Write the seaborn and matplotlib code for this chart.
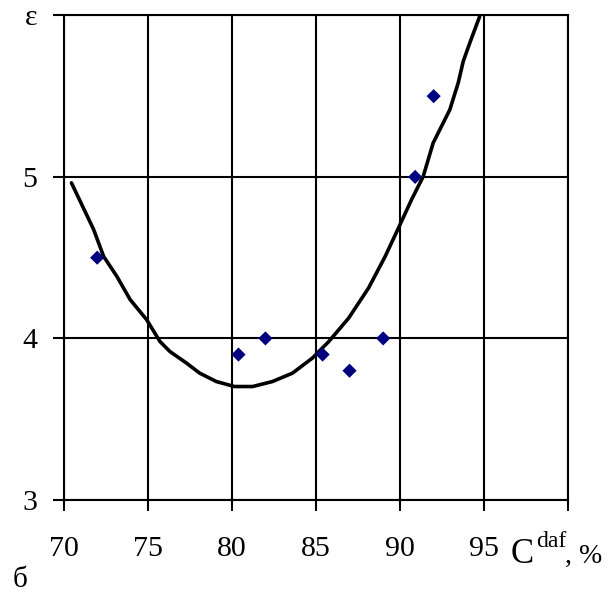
import matplotlib
matplotlib.use("Agg")
import matplotlib.pyplot as plt
import seaborn as sns
import pandas as pd

# Measured dielectric constant versus carbon content
carbon = [72.0, 80.4, 82.0, 85.4, 87.0, 89.0, 90.9, 92.0]
epsilon = [4.5, 3.9, 4.0, 3.9, 3.8, 4.0, 5.0, 5.5]

# Trend curve through the measurements
curve_c = [70.47, 71.79, 72.38, 73.17, 73.96, 74.94, 75.73, 76.32, 77.31, 78.09,
           79.08, 80.16, 81.24, 82.42, 83.61, 84.79, 85.77, 86.95, 88.13, 89.12,
           89.91, 90.69, 91.38, 91.97, 92.96, 93.46, 93.76, 94.15, 94.74]
curve_eps = [4.963, 4.674, 4.508, 4.384, 4.240, 4.116, 3.981, 3.919, 3.847, 3.785,
             3.733, 3.702, 3.702, 3.733, 3.785, 3.878, 3.981, 4.126, 4.312, 4.508,
             4.684, 4.860, 5.003, 5.210, 5.416, 5.582, 5.716, 5.830, 5.995]

x_ticks = [70, 75, 80, 85, 90, 95, 100]
x_tick_labels = ["70", "75", "80", "85", "90", "95", ""]
y_ticks = [3, 4, 5, 6]
y_tick_labels = ["3", "4", "5", "ε"]

sns.set_theme(style="white")
plt.rcParams["font.family"] = ["Liberation Serif", "DejaVu Serif"]
plt.rcParams["text.color"] = "black"
plt.rcParams["xtick.color"] = "black"
plt.rcParams["ytick.color"] = "black"

points = pd.DataFrame({"C": carbon, "eps": epsilon})
trend = pd.DataFrame({"C": curve_c, "eps": curve_eps})

fig = plt.figure(figsize=(6.11, 5.93), dpi=100)
ax = fig.add_axes([0.104, 0.157, 0.826, 0.817])

sns.lineplot(data=trend, x="C", y="eps", sort=False, color="black",
             linewidth=2.6, ax=ax, zorder=3)
sns.scatterplot(data=points, x="C", y="eps", marker="D", color="#000080",
                s=52, edgecolor="none", ax=ax, zorder=4)

ax.set_xlim(70, 100)
ax.set_ylim(3, 6)
ax.set_xticks(x_ticks)
ax.set_xticklabels(x_tick_labels)
ax.set_yticks(y_ticks)
ax.set_yticklabels(y_tick_labels)
ax.set_xlabel("")
ax.set_ylabel("")

ax.grid(True, color="black", linewidth=1.5)
ax.set_axisbelow(True)
for side in ax.spines.values():
    side.set_visible(True)
    side.set_color("black")
    side.set_linewidth(1.5)

ax.tick_params(axis="x", direction="out", length=8, width=1.5, colors="black",
               labelsize=21.5, pad=18, bottom=True)
ax.tick_params(axis="y", direction="out", length=8, width=1.5, colors="black",
               labelsize=21.5, pad=11, left=True)

# Axis title built from pieces of different sizes
W, H = 611.0, 593.0
fig.text(511 / W, 1 - 563 / H, "C", fontsize=25, va="baseline", ha="left",
         color="black")
fig.text(536 / W, 1 - 547 / H, "daf", fontsize=17, va="baseline", ha="left",
         color="black")
fig.text(565 / W, 1 - 563 / H, ", %", fontsize=20, va="baseline", ha="left",
         color="black")

# Panel letter
fig.text(13 / W, 1 - 587 / H, "б", fontsize=21, va="baseline", ha="left",
         color="black")

fig.savefig("out.png", dpi=100, facecolor="white")
